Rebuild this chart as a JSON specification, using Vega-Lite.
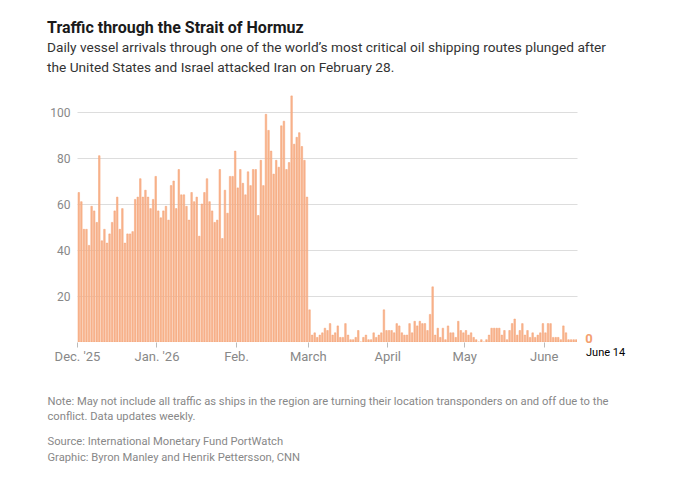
{
  "$schema": "https://vega.github.io/schema/vega-lite/v6.json",
  "width": 500,
  "height": 253,
  "autosize": {"type": "none"},
  "padding": {"left": 77, "top": 89, "right": 113, "bottom": 141},
  "background": "white",
  "config": {
    "view": {"stroke": null},
    "font": "Roboto"
  },
  "title": {
    "text": "Traffic through the Strait of Hormuz",
    "subtitle": ["Daily vessel arrivals through one of the world\u2019s most critical oil shipping routes plunged after", "the United States and Israel attacked Iran on February 28."],
    "anchor": "start",
    "frame": "group",
    "dx": -30,
    "offset": 14,
    "font": "Roboto",
    "fontSize": 16,
    "fontWeight": "bold",
    "color": "#1a1a1a",
    "subtitleFont": "Roboto",
    "subtitleFontSize": 13.7,
    "subtitleColor": "#333333",
    "subtitleLineHeight": 20,
    "subtitlePadding": 5
  },
  "resolve": {"axis": {"x": "independent"}},
  "layer": [
    {
      "data": {"values": [
        {"date":"2025-12-01","n":65},{"date":"2025-12-02","n":61},{"date":"2025-12-03","n":49},{"date":"2025-12-04","n":49},{"date":"2025-12-05","n":42},{"date":"2025-12-06","n":59},{"date":"2025-12-07","n":57},{"date":"2025-12-08","n":52},{"date":"2025-12-09","n":81},{"date":"2025-12-10","n":44},
        {"date":"2025-12-11","n":49},{"date":"2025-12-12","n":43},{"date":"2025-12-13","n":47},{"date":"2025-12-14","n":52},{"date":"2025-12-15","n":57},{"date":"2025-12-16","n":63},{"date":"2025-12-17","n":49},{"date":"2025-12-18","n":58},{"date":"2025-12-19","n":43},{"date":"2025-12-20","n":47},
        {"date":"2025-12-21","n":47},{"date":"2025-12-22","n":48},{"date":"2025-12-23","n":62},{"date":"2025-12-24","n":63},{"date":"2025-12-25","n":71},{"date":"2025-12-26","n":63},{"date":"2025-12-27","n":66},{"date":"2025-12-28","n":63},{"date":"2025-12-29","n":58},{"date":"2025-12-30","n":62},
        {"date":"2025-12-31","n":72},
        {"date":"2026-01-01","n":57},{"date":"2026-01-02","n":54},{"date":"2026-01-03","n":57},{"date":"2026-01-04","n":59},{"date":"2026-01-05","n":53},{"date":"2026-01-06","n":68},{"date":"2026-01-07","n":70},{"date":"2026-01-08","n":58},{"date":"2026-01-09","n":75},{"date":"2026-01-10","n":64},
        {"date":"2026-01-11","n":64},{"date":"2026-01-12","n":59},{"date":"2026-01-13","n":53},{"date":"2026-01-14","n":65},{"date":"2026-01-15","n":61},{"date":"2026-01-16","n":63},{"date":"2026-01-17","n":46},{"date":"2026-01-18","n":60},{"date":"2026-01-19","n":65},{"date":"2026-01-20","n":71},
        {"date":"2026-01-21","n":61},{"date":"2026-01-22","n":57},{"date":"2026-01-23","n":52},{"date":"2026-01-24","n":53},{"date":"2026-01-25","n":75},{"date":"2026-01-26","n":45},{"date":"2026-01-27","n":66},{"date":"2026-01-28","n":56},{"date":"2026-01-29","n":72},{"date":"2026-01-30","n":72},
        {"date":"2026-01-31","n":83},
        {"date":"2026-02-01","n":67},{"date":"2026-02-02","n":75},{"date":"2026-02-03","n":69},{"date":"2026-02-04","n":64},{"date":"2026-02-05","n":74},{"date":"2026-02-06","n":68},{"date":"2026-02-07","n":75},{"date":"2026-02-08","n":75},{"date":"2026-02-09","n":55},{"date":"2026-02-10","n":79},
        {"date":"2026-02-11","n":68},{"date":"2026-02-12","n":99},{"date":"2026-02-13","n":92},{"date":"2026-02-14","n":83},{"date":"2026-02-15","n":73},{"date":"2026-02-16","n":79},{"date":"2026-02-17","n":76},{"date":"2026-02-18","n":94},{"date":"2026-02-19","n":96},{"date":"2026-02-20","n":75},
        {"date":"2026-02-21","n":78},{"date":"2026-02-22","n":107},{"date":"2026-02-23","n":86},{"date":"2026-02-24","n":89},{"date":"2026-02-25","n":91},{"date":"2026-02-26","n":85},{"date":"2026-02-27","n":79},{"date":"2026-02-28","n":63},
        {"date":"2026-03-01","n":14},{"date":"2026-03-02","n":3},{"date":"2026-03-03","n":4},{"date":"2026-03-04","n":2},{"date":"2026-03-05","n":3},{"date":"2026-03-06","n":4},{"date":"2026-03-07","n":6},{"date":"2026-03-08","n":5},{"date":"2026-03-09","n":8},{"date":"2026-03-10","n":3},
        {"date":"2026-03-11","n":4},{"date":"2026-03-12","n":7},{"date":"2026-03-13","n":2},{"date":"2026-03-14","n":2},{"date":"2026-03-15","n":8},{"date":"2026-03-16","n":3},{"date":"2026-03-17","n":1},{"date":"2026-03-18","n":1},{"date":"2026-03-19","n":2},{"date":"2026-03-20","n":5},
        {"date":"2026-03-21","n":0},{"date":"2026-03-22","n":2},{"date":"2026-03-23","n":3},{"date":"2026-03-24","n":1},{"date":"2026-03-25","n":1},{"date":"2026-03-26","n":4},{"date":"2026-03-27","n":2},{"date":"2026-03-28","n":3},{"date":"2026-03-29","n":4},{"date":"2026-03-30","n":14},
        {"date":"2026-03-31","n":5},
        {"date":"2026-04-01","n":5},{"date":"2026-04-02","n":5},{"date":"2026-04-03","n":4},{"date":"2026-04-04","n":8},{"date":"2026-04-05","n":7},{"date":"2026-04-06","n":4},{"date":"2026-04-07","n":3},{"date":"2026-04-08","n":3},{"date":"2026-04-09","n":8},{"date":"2026-04-10","n":4},
        {"date":"2026-04-11","n":9},{"date":"2026-04-12","n":7},{"date":"2026-04-13","n":9},{"date":"2026-04-14","n":8},{"date":"2026-04-15","n":8},{"date":"2026-04-16","n":5},{"date":"2026-04-17","n":12},{"date":"2026-04-18","n":24},{"date":"2026-04-19","n":3},{"date":"2026-04-20","n":6},
        {"date":"2026-04-21","n":2},{"date":"2026-04-22","n":6},{"date":"2026-04-23","n":1},{"date":"2026-04-24","n":7},{"date":"2026-04-25","n":4},{"date":"2026-04-26","n":4},{"date":"2026-04-27","n":2},{"date":"2026-04-28","n":9},{"date":"2026-04-29","n":5},{"date":"2026-04-30","n":4},
        {"date":"2026-05-01","n":5},{"date":"2026-05-02","n":3},{"date":"2026-05-03","n":4},{"date":"2026-05-04","n":2},{"date":"2026-05-05","n":1},{"date":"2026-05-06","n":0},{"date":"2026-05-07","n":1},{"date":"2026-05-08","n":0},{"date":"2026-05-09","n":1},{"date":"2026-05-10","n":3},
        {"date":"2026-05-11","n":6},{"date":"2026-05-12","n":6},{"date":"2026-05-13","n":6},{"date":"2026-05-14","n":6},{"date":"2026-05-15","n":3},{"date":"2026-05-16","n":5},{"date":"2026-05-17","n":1},{"date":"2026-05-18","n":5},{"date":"2026-05-19","n":8},{"date":"2026-05-20","n":10},
        {"date":"2026-05-21","n":3},{"date":"2026-05-22","n":5},{"date":"2026-05-23","n":8},{"date":"2026-05-24","n":3},{"date":"2026-05-25","n":5},{"date":"2026-05-26","n":2},{"date":"2026-05-27","n":4},{"date":"2026-05-28","n":2},{"date":"2026-05-29","n":3},{"date":"2026-05-30","n":4},
        {"date":"2026-05-31","n":8},
        {"date":"2026-06-01","n":4},{"date":"2026-06-02","n":8},{"date":"2026-06-03","n":8},{"date":"2026-06-04","n":2},{"date":"2026-06-05","n":2},{"date":"2026-06-06","n":2},{"date":"2026-06-07","n":1},{"date":"2026-06-08","n":7},{"date":"2026-06-09","n":4},{"date":"2026-06-10","n":1},
        {"date":"2026-06-11","n":1},{"date":"2026-06-12","n":1},{"date":"2026-06-13","n":1},{"date":"2026-06-14","n":0}
      ]},
      "mark": {"type": "bar", "fill": "#f8b590", "stroke": "#f4a072", "strokeWidth": 0.5, "timeUnitBandSize": 0.86, "timeUnitBandPosition": 0, "clip": true},
      "encoding": {
        "x": {
          "field": "date",
          "timeUnit": "utcyearmonthdate",
          "type": "temporal",
          "scale": {"type": "utc", "domain": [{"year": 2025, "month": 12, "date": 1, "utc": true}, {"year": 2026, "month": 6, "date": 14, "utc": true}]},
          "axis": {
            "orient": "bottom",
            "values": [
              {"year": 2025, "month": 12, "date": 1, "utc": true},
              {"year": 2026, "month": 1, "date": 1, "utc": true},
              {"year": 2026, "month": 2, "date": 1, "utc": true},
              {"year": 2026, "month": 3, "date": 1, "utc": true},
              {"year": 2026, "month": 4, "date": 1, "utc": true},
              {"year": 2026, "month": 5, "date": 1, "utc": true},
              {"year": 2026, "month": 6, "date": 1, "utc": true}
            ],
            "labelExpr": "[\"Jan. '26\",\"Feb.\",\"March\",\"April\",\"May\",\"June\",\"July\",\"Aug.\",\"Sept.\",\"Oct.\",\"Nov.\",\"Dec. '25\"][utcmonth(datum.value)]",
            "labelFont": "Roboto",
            "labelFontSize": 13,
            "labelColor": "#888888",
            "labelPadding": 3,
            "labelFlush": false,
            "labelOverlap": false,
            "domain": false,
            "grid": false,
            "ticks": true,
            "tickColor": "#bbbbbb",
            "tickSize": 5,
            "title": ["Note: May not include all traffic as ships in the region are turning their location transponders on and off due to the", "conflict. Data updates weekly."],
            "titleFont": "Roboto",
            "titleFontSize": 11.2,
            "titleFontWeight": "normal",
            "titleColor": "#888888",
            "titleAnchor": "start",
            "titleAlign": "left",
            "titleBaseline": "top",
            "titleLineHeight": 15,
            "titleX": -30,
            "titleY": 53
          }
        },
        "y": {
          "field": "n",
          "type": "quantitative",
          "scale": {"domain": [0, 110], "nice": false},
          "axis": {
            "values": [20, 40, 60, 80, 100],
            "title": null,
            "domain": false,
            "ticks": false,
            "grid": true,
            "gridColor": "#dddddd",
            "labelFont": "Roboto",
            "labelFontSize": 12,
            "labelColor": "#888888",
            "labelPadding": 7
          }
        }
      }
    },
    {
      "data": {"values": [{"date": "2026-06-14", "n": 0, "label": "0"}]},
      "mark": {"type": "text", "font": "Roboto", "fontSize": 13, "fontWeight": "bold", "color": "#f4a070", "align": "center", "baseline": "alphabetic", "dx": 12, "dy": 1},
      "encoding": {
        "x": {
          "field": "date", "type": "temporal", "scale": {"type": "utc"},
          "axis": {
            "orient": "bottom",
            "labels": false,
            "ticks": false,
            "domain": false,
            "grid": false,
            "title": ["Source: International Monetary Fund PortWatch", "Graphic: Byron Manley and Henrik Pettersson, CNN"],
            "titleFont": "Roboto",
            "titleFontSize": 11.2,
            "titleFontWeight": "normal",
            "titleColor": "#888888",
            "titleAnchor": "start",
            "titleAlign": "left",
            "titleBaseline": "top",
            "titleLineHeight": 16,
            "titleX": -30,
            "titleY": 93
          }
        },
        "y": {"field": "n", "type": "quantitative"},
        "text": {"field": "label"}
      }
    },
    {
      "data": {"values": [{"date": "2026-06-14", "n": 0, "label": "June 14"}]},
      "mark": {"type": "text", "font": "Roboto", "fontSize": 11, "color": "#000000", "align": "left", "baseline": "alphabetic", "dx": 9, "dy": 14},
      "encoding": {
        "x": {"field": "date", "type": "temporal", "scale": {"type": "utc"}, "axis": null},
        "y": {"field": "n", "type": "quantitative"},
        "text": {"field": "label"}
      }
    }
  ]
}
